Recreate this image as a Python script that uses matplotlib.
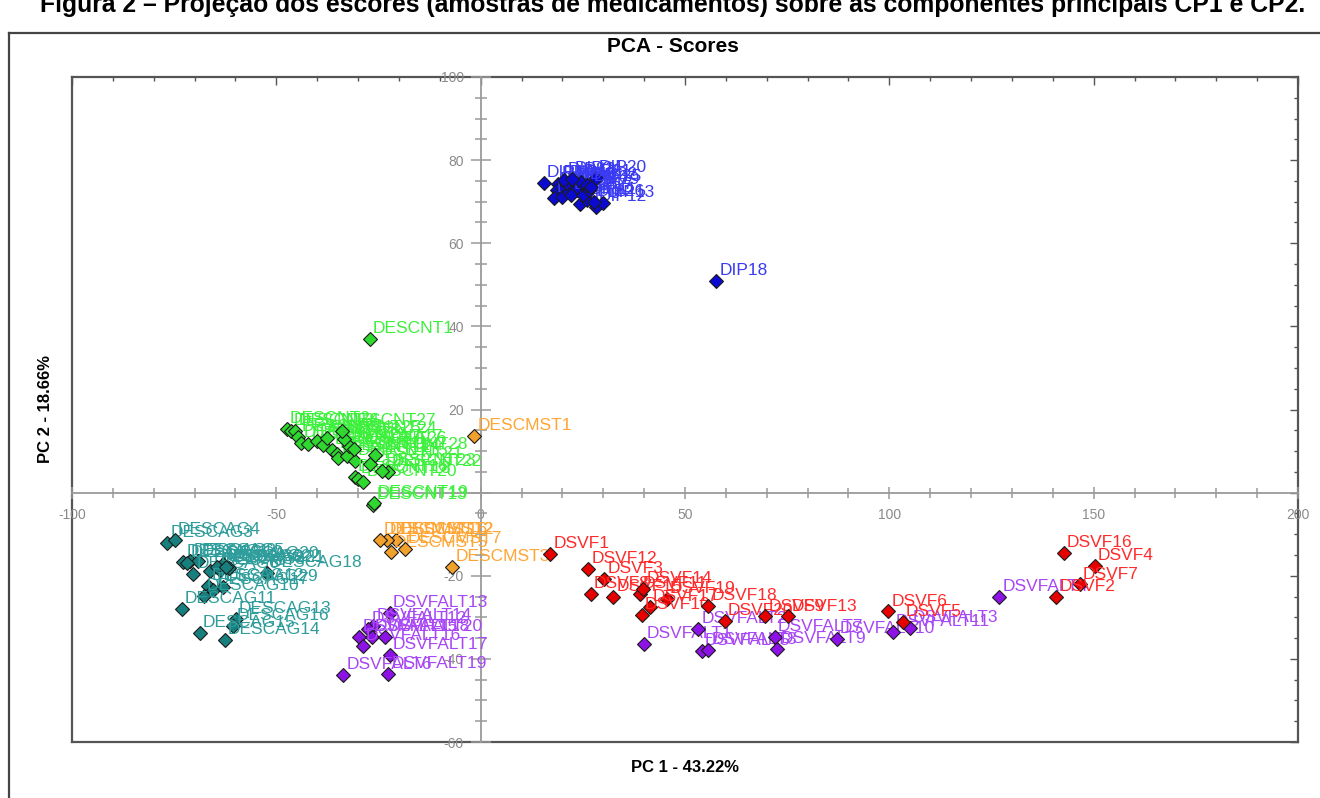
import matplotlib
matplotlib.use("Agg")
import matplotlib.pyplot as plt
from matplotlib.ticker import MultipleLocator, FuncFormatter
from matplotlib.lines import Line2D

plt.rcParams['font.family'] = ['Liberation Sans', 'DejaVu Sans']
plt.rcParams['axes.unicode_minus'] = False

# ---- scores (PC1, PC2) ----
dip_names = ['DIP1', 'DIP2', 'DIP3', 'DIP4', 'DIP5', 'DIP6', 'DIP7', 'DIP8', 'DIP9',
             'DIP10', 'DIP11', 'DIP12', 'DIP13', 'DIP14', 'DIP15', 'DIP16', 'DIP17',
             'DIP18', 'DIP19', 'DIP20', 'DIP21', 'DIP22', 'DIP23', 'DIP24', 'DIP25', 'DIP26']
dip_pc1 = [19.0, 18.6, 20.2, 17.9, 20.0, 21.5, 22.8, 23.5, 24.3, 23.8, 25.9, 28.2, 30.0,
           15.5, 21.0, 22.0, 25.0, 57.7, 26.5, 28.2, 24.5, 26.0, 20.5, 22.3, 27.0, 27.7]
dip_pc2 = [74.3, 72.8, 73.1, 70.9, 71.2, 72.4, 73.8, 72.7, 69.5, 73.2, 70.3, 68.8, 69.8,
           74.4, 74.6, 71.6, 71.5, 51.0, 72.8, 75.8, 74.8, 74.0, 75.2, 75.5, 73.5, 70.0]

descnt_names = ['DESCNT1', 'DESCNT2', 'DESCNT3', 'DESCNT4', 'DESCNT5', 'DESCNT6', 'DESCNT7',
                'DESCNT8', 'DESCNT9', 'DESCNT10', 'DESCNT11', 'DESCNT12', 'DESCNT13', 'DESCNT14',
                'DESCNT15', 'DESCNT16', 'DESCNT17', 'DESCNT18', 'DESCNT19', 'DESCNT20',
                'DESCNT21', 'DESCNT22', 'DESCNT23', 'DESCNT24', 'DESCNT25', 'DESCNT26',
                'DESCNT27', 'DESCNT28']
descnt_pc1 = [-27.1, -47.5, -46.5, -45.4, -44.6, -44.0, -42.2, -40.1, -38.5, -36.5, -35.2,
              -34.8, -26.3, -32.8, -30.8, -30.8, -32.2, -30.0, -26.0, -28.7, -27.1, -22.6,
              -24.1, -33.5, -37.5, -31.0, -33.9, -25.9]
descnt_pc2 = [37.0, 15.3, 14.9, 14.8, 13.5, 11.9, 11.7, 12.5, 11.5, 10.3, 9.3, 8.3, -2.9,
              8.9, 7.7, 3.8, 11.1, 3.2, -2.6, 2.5, 6.9, 4.9, 5.3, 12.8, 13.2, 10.5, 14.9, 9.1]

descmst_names = ['DESCMST1', 'DESCMST2', 'DESCMST3', 'DESCMST5', 'DESCMST7', 'DESCMST12',
                 'DESCMST16']
descmst_pc1 = [-1.6, -20.7, -6.9, -22.0, -18.5, -23.0, -24.6]
descmst_pc2 = [13.7, -11.4, -17.8, -14.4, -13.6, -11.3, -11.5]

descag_names = ['DESCAG3', 'DESCAG4', 'DESCAG1', 'DESCAG2', 'DESCAG5', 'DESCAG6', 'DESCAG7',
                'DESCAG8', 'DESCAG20', 'DESCAG9', 'DESCAG18', 'DESCAG12', 'DESCAG17',
                'DESCAG29', 'DESCAG10', 'DESCAG11', 'DESCAG13', 'DESCAG16', 'DESCAG15',
                'DESCAG14', 'DESCAG19', 'DESCAG21', 'DESCAG22']
descag_pc1 = [-76.7, -74.8, -72.8, -71.1, -69.1, -70.3, -66.2, -63.8, -63.0, -64.5, -52.4,
              -66.6, -65.4, -63.1, -67.7, -73.2, -59.9, -60.5, -68.7, -62.6, -71.8, -61.5,
              -62.3]
descag_pc2 = [-12.0, -11.5, -16.8, -16.4, -16.4, -19.6, -18.9, -18.6, -17.2, -18.0, -19.4,
              -22.4, -23.4, -22.6, -24.8, -28.0, -30.4, -32.0, -33.8, -35.4, -17.0, -18.2,
              -17.8]

dsvf_names = ['DSVF1', 'DSVF12', 'DSVF3', 'DSVF8', 'DSVF15', 'DSVF11', 'DSVF14', 'DSVF19',
              'DSVF17', 'DSVF10', 'DSVF18', 'DSVF20', 'DSVF9', 'DSVF13', 'DSVF6', 'DSVF5',
              'DSVF16', 'DSVF4', 'DSVF7', 'DSVF2']
dsvf_pc1 = [17.0, 26.3, 30.2, 26.9, 32.4, 39.0, 39.8, 45.5, 41.4, 39.4, 55.7, 59.8, 69.6,
            75.3, 99.7, 103.3, 142.7, 150.3, 146.6, 140.9]
dsvf_pc2 = [-14.8, -18.4, -20.8, -24.4, -25.0, -24.4, -23.2, -25.6, -27.6, -29.4, -27.2,
            -30.8, -29.8, -29.8, -28.6, -31.2, -14.6, -17.6, -22.1, -25.0]

dsvfalt_names = ['DSVFALT13', 'DSVFALT14', 'DSVFALT12', 'DSVFALT15', 'DSVFALT18',
                 'DSVFALT16', 'DSVFALT20', 'DSVFALT17', 'DSVFALT19', 'DSVFALT6', 'DSVFALT1',
                 'DSVFALT2', 'DSVFALT5', 'DSVFALT8', 'DSVFALT7', 'DSVFALT9', 'DSVFALT10',
                 'DSVFALT11', 'DSVFALT3', 'DSVFALT4']
dsvfalt_pc1 = [-22.3, -26.3, -27.5, -29.7, -26.7, -28.9, -23.4, -22.2, -22.6, -33.6, 39.9,
               53.2, 54.1, 55.7, 72.0, 72.6, 87.1, 100.8, 105.0, 126.9]
dsvfalt_pc2 = [-29.0, -32.0, -32.8, -34.8, -34.8, -36.8, -34.8, -39.0, -43.6, -43.8, -36.4,
               -32.8, -38.0, -37.9, -34.8, -37.6, -35.2, -33.6, -32.6, -25.0]

groups = [
    (descag_names, descag_pc1, descag_pc2, '#17807e', '#2f9d9b'),
    (descnt_names, descnt_pc1, descnt_pc2, '#2fd82f', '#3cf03c'),
    (descmst_names, descmst_pc1, descmst_pc2, '#f2a12a', '#ffa534'),
    (dip_names, dip_pc1, dip_pc2, '#0a0ad0', '#3a3af2'),
    (dsvfalt_names, dsvfalt_pc1, dsvfalt_pc2, '#8c12e6', '#a747f5'),
    (dsvf_names, dsvf_pc1, dsvf_pc2, '#e60000', '#ff2b2b'),
]

fig = plt.figure(figsize=(13.2, 7.98), dpi=100)
rect = [72 / 1320, 1 - 742 / 798, 1226 / 1320, 665 / 798]

# outer box with inward ticks on top and right
frame = fig.add_axes(rect)
frame.set_xlim(-100, 200)
frame.set_ylim(-60, 100)
frame.xaxis.set_major_locator(MultipleLocator(50))
frame.xaxis.set_minor_locator(MultipleLocator(10))
frame.yaxis.set_major_locator(MultipleLocator(20))
frame.yaxis.set_minor_locator(MultipleLocator(5))
frame.tick_params(which='both', direction='in', bottom=False, left=False, top=True,
                  right=True, labelbottom=False, labelleft=False, color='#555555')
frame.tick_params(which='major', length=6, width=1)
frame.tick_params(which='minor', length=3, width=1)
for s in frame.spines.values():
    s.set_color('#555555')
    s.set_linewidth(1.6)

# data axes with the axis lines through the origin
ax = fig.add_axes(rect, facecolor='none')
ax.set_xlim(-100, 200)
ax.set_ylim(-60, 100)
ax.spines['left'].set_position(('data', 0))
ax.spines['bottom'].set_position(('data', 0))
ax.spines['top'].set_visible(False)
ax.spines['right'].set_visible(False)
for s in ('left', 'bottom'):
    ax.spines[s].set_color('#9a9a9a')
    ax.spines[s].set_linewidth(1.3)
ax.xaxis.set_major_locator(MultipleLocator(50))
ax.xaxis.set_minor_locator(MultipleLocator(10))
ax.yaxis.set_major_locator(MultipleLocator(20))
ax.yaxis.set_minor_locator(MultipleLocator(5))
ax.tick_params(which='both', direction='inout', color='#9a9a9a', labelcolor='#8a8a8a',
               labelsize=10, width=1.1)
ax.tick_params(axis='x', which='major', length=8, pad=7)
ax.tick_params(axis='x', which='minor', length=7)
ax.tick_params(axis='y', which='major', length=14, pad=5)
ax.tick_params(axis='y', which='minor', length=8)
ax.xaxis.set_major_formatter(FuncFormatter(lambda v, p: f'{v:g}'))
ax.yaxis.set_major_formatter(FuncFormatter(lambda v, p: '' if v == 0 else f'{v:g}'))

z = 3
for names, xs, ys, mcol, tcol in groups:
    for name, x, y in zip(names, xs, ys):
        ax.plot([x], [y], marker='D', ms=6.8, mfc=mcol, mec='#1c1c1c', mew=0.8,
                linestyle='none', zorder=z)
        ax.annotate(name, (x, y), xytext=(2.2, 4.3), textcoords='offset points',
                    ha='left', va='baseline', fontsize=12.5, color=tcol, zorder=z + 1)
        z += 2

fig.text(685 / 1320, 1 - 768 / 798, 'PC 1 - 43.22%', ha='center', va='center',
         fontsize=12, fontweight='bold')
fig.text(45 / 1320, 1 - 409 / 798, 'PC 2 - 18.66%', ha='center', va='center',
         rotation=90, fontsize=12, fontweight='bold')
fig.text(673 / 1320, 1 - 47 / 798, 'PCA - Scores', ha='center', va='center',
         fontsize=15, fontweight='bold')
fig.text(40 / 1320, 1 - 12 / 798,
         'Figura 2 \u2013 Proje\u00e7\u00e3o dos escores (amostras de medicamentos) sobre '
         'as componentes principais CP1 e CP2.',
         ha='left', va='baseline', fontsize=17.8, fontweight='bold')

# page frame lines
fig.add_artist(Line2D([9 / 1320, 1], [1 - 33 / 798, 1 - 33 / 798], color='#444444',
                      lw=1.6, transform=fig.transFigure))
fig.add_artist(Line2D([9 / 1320, 9 / 1320], [0, 1 - 33 / 798], color='#444444',
                      lw=1.6, transform=fig.transFigure))

fig.savefig('out.png', dpi=100)
